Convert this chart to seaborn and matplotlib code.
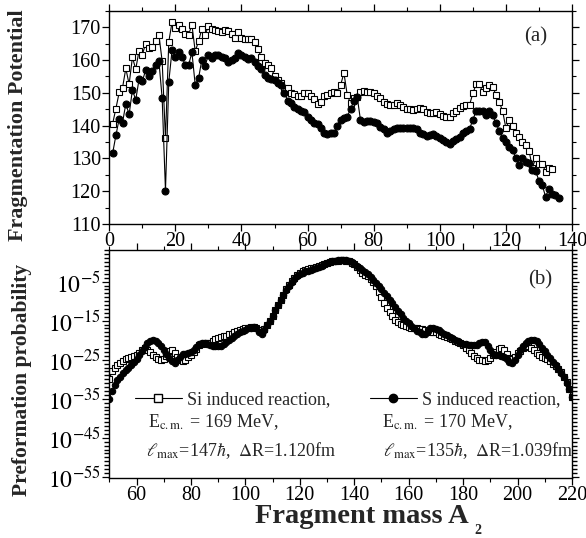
import numpy as np
import matplotlib
matplotlib.use("Agg")
import matplotlib.pyplot as plt
import matplotlib.ticker as mticker
from matplotlib.lines import Line2D
import seaborn as sns

# ---------------- data ----------------
A_top_si = list(range(1, 135))
V_si = [140.5, 145.2, 150.1, 151.5, 157.4, 152.6, 160.8, 157.2, 162.8, 161.6,
        165.0, 163.5, 163.8, 165.9, 167.7, 159.6, 136.1, 165.5, 171.6, 169.7,
        170.7, 169.3, 167.8, 167.7, 170.7, 162.6, 165.7, 169.4, 167.7, 170.3,
        169.4, 169.0, 168.9, 168.6, 169.0, 168.7, 167.9, 166.8, 168.4, 166.8,
        166.3, 166.5, 166.3, 165.5, 163.3, 160.8, 159.0, 158.6, 157.5, 155.2,
        154.0, 153.0, 150.6, 151.4, 150.0, 149.5, 149.1, 149.1, 149.8, 149.8,
        149.1, 148.0, 146.6, 147.3, 149.0, 149.2, 149.8, 150.1, 149.8, 152.4,
        156.0, 149.3, 146.8, 148.3, 148.8, 150.3, 150.5, 150.1, 150.1, 149.8,
        149.1, 148.3, 147.3, 146.5, 146.3, 146.3, 146.8, 146.3, 145.8, 145.1,
        144.9, 144.8, 145.0, 145.3, 145.1, 144.0, 143.7, 143.7, 144.0, 143.4,
        143.0, 142.7, 142.7, 143.7, 144.5, 145.3, 146.1, 146.3, 146.3, 149.8,
        152.6, 152.6, 150.1, 151.6, 152.4, 151.9, 149.3, 147.1, 144.5, 139.2,
        141.7, 140.0, 137.6, 136.6, 134.9, 134.1, 132.4, 127.2, 130.0, 128.2,
        128.2, 126.0, 127.2, 126.8]

A_top_s = list(range(1, 137))
V_s = [131.5, 137.0, 142.1, 140.9, 146.6, 143.4, 150.9, 147.8, 154.1, 153.6,
       156.8, 155.1, 156.6, 158.4, 159.8, 148.3, 120.2, 153.3, 163.1, 161.0,
       162.4, 160.8, 158.5, 158.5, 162.3, 152.4, 154.4, 160.0, 158.2, 161.6,
       160.7, 161.6, 161.6, 161.0, 160.7, 159.5, 160.0, 160.5, 162.1, 161.5,
       160.8, 160.2, 160.5, 159.3, 158.0, 157.2, 155.5, 154.6, 154.1, 153.9,
       153.0, 152.3, 150.0, 147.5, 146.8, 145.8, 145.1, 144.5, 144.2, 142.7,
       141.7, 140.7, 140.4, 139.2, 137.6, 137.3, 137.8, 137.6, 140.0, 141.7,
       142.4, 142.7, 145.1, 147.5, 148.8, 141.7, 141.0, 141.4, 141.5, 141.2,
       140.7, 139.7, 139.0, 137.8, 138.4, 139.0, 139.4, 139.4, 139.4, 139.4,
       139.2, 139.2, 139.1, 137.8, 137.3, 136.8, 137.1, 137.3, 136.9, 136.3,
       135.6, 134.9, 134.3, 135.3, 135.9, 136.6, 137.6, 138.4, 139.0, 141.7,
       144.5, 144.5, 144.5, 143.2, 144.3, 143.2, 140.7, 138.4, 136.1, 134.9,
       133.6, 132.6, 130.2, 128.0, 130.2, 129.0, 128.5, 126.5, 126.3, 123.1,
       121.9, 118.3, 120.7, 119.0, 118.8, 118.0]

A_bot = list(range(50, 221))
logP_si = [-30.0, -28.0, -27.0, -26.3, -25.8, -25.3, -24.9, -24.6, -24.3, -24.1,
           -23.9, -23.3, -22.5, -22.1, -22.4, -23.1, -23.8, -24.3, -24.7, -25.0,
           -24.9, -24.0, -22.8, -22.6, -23.3, -24.4, -25.2, -25.3, -25.0, -24.4,
           -23.7, -23.0, -22.2, -21.3, -20.9, -20.8, -20.8, -20.7, -20.3, -19.8,
           -19.4, -19.2, -19.0, -18.8, -18.5, -18.3, -18.0, -17.7, -17.4, -17.2,
           -17.0, -16.8, -16.7, -16.7, -16.9, -17.4, -17.8, -17.1, -16.1, -15.0,
           -13.7, -12.3, -11.0, -9.6, -8.3, -7.0, -5.9, -4.9, -4.0, -3.3,
           -2.7, -2.3, -2.0, -1.8, -1.6, -1.4, -1.2, -1.0, -0.7, -0.4,
           -0.2, 0.0, 0.2, 0.3, 0.4, 0.5, 0.5, 0.4, 0.2, -0.1,
           -0.6, -1.3, -2.1, -2.7, -3.2, -3.6, -4.2, -5.0, -6.2, -7.6,
           -9.0, -10.4, -11.7, -12.9, -13.9, -14.7, -15.3, -15.8, -16.1, -16.4,
           -16.6, -16.8, -16.9, -17.0, -17.1, -17.2, -17.4, -17.6, -17.8, -17.9,
           -18.0, -18.3, -18.6, -18.9, -19.2, -19.5, -19.8, -20.1, -20.4, -20.8,
           -21.3, -21.9, -22.6, -23.3, -24.0, -24.6, -25.0, -25.2, -25.3, -25.1,
           -24.6, -23.8, -23.0, -22.3, -22.0, -22.5, -23.6, -24.6, -24.8, -24.2,
           -23.4, -22.7, -22.1, -21.7, -21.6, -21.9, -22.5, -23.2, -23.8, -24.2,
           -24.5, -24.9, -25.4, -26.0, -26.6, -27.3, -28.2, -29.4, -30.8, -32.6,
           -34.5]
logP_s = [-35.0, -33.0, -31.4, -30.3, -29.4, -28.5, -27.7, -27.0, -26.3, -25.6,
          -24.8, -23.8, -22.7, -21.7, -20.8, -20.1, -19.9, -20.1, -20.8, -21.6,
          -22.6, -23.6, -24.6, -25.4, -25.8, -25.2, -24.2, -23.6, -23.5, -23.4,
          -23.1, -22.5, -21.8, -21.0, -20.7, -20.8, -21.0, -21.3, -21.5, -21.6,
          -21.6, -21.4, -20.9, -20.4, -19.9, -19.4, -19.0, -18.5, -18.0, -17.6,
          -17.3, -17.0, -16.8, -16.7, -17.0, -17.8, -18.4, -17.5, -16.2, -15.0,
          -13.7, -12.3, -11.0, -9.7, -8.4, -7.2, -6.1, -5.1, -4.3, -3.6,
          -3.1, -2.7, -2.4, -2.2, -2.0, -1.8, -1.6, -1.3, -1.0, -0.6,
          -0.3, 0.0, 0.2, 0.4, 0.5, 0.6, 0.6, 0.5, 0.3, 0.0,
          -0.5, -1.1, -1.6, -2.0, -2.5, -3.1, -3.8, -4.5, -5.3, -6.1,
          -7.0, -7.9, -8.8, -9.7, -10.6, -11.5, -12.4, -13.3, -14.2, -15.0,
          -15.7, -16.4, -17.0, -17.6, -18.0, -18.4, -18.5, -17.6, -17.0, -17.0,
          -17.2, -17.4, -17.8, -18.3, -18.7, -19.1, -19.5, -19.9, -20.3, -20.6,
          -20.9, -21.1, -21.2, -21.3, -21.3, -21.2, -20.8, -20.4, -20.5, -21.4,
          -22.6, -23.5, -23.8, -23.8, -24.0, -24.3, -24.9, -25.6, -25.9, -25.2,
          -23.9, -22.6, -21.5, -20.7, -20.2, -19.9, -19.9, -20.3, -21.0, -21.9,
          -22.8, -23.7, -24.6, -25.5, -26.4, -27.3, -28.3, -29.5, -30.9, -32.6,
          -34.6]

top_xticks = [0, 20, 40, 60, 80, 100, 120, 140]
top_yticks = [110, 120, 130, 140, 150, 160, 170]
bot_xticks = [60, 80, 100, 120, 140, 160, 180, 200, 220]
bot_yexps = [-5, -15, -25, -35, -45, -55]

si_label = "Si induced reaction,"
si_line2 = r"E$_{\rm c.m.}$ = 169 MeV,"
si_line3 = r"$\ell_{\rm max}$=147$\hbar$,  $\Delta$R=1.120fm"
s_label = "S induced reaction,"
s_line2 = r"E$_{\rm c.m.}$ = 170 MeV,"
s_line3 = r"$\ell_{\rm max}$=135$\hbar$,  $\Delta$R=1.039fm"

# ---------------- style ----------------
sns.set_style("ticks")
plt.rcParams["font.family"] = ["Liberation Serif", "DejaVu Serif"]
plt.rcParams["mathtext.fontset"] = "stix"
plt.rcParams["xtick.direction"] = "out"
plt.rcParams["ytick.direction"] = "out"

fig = plt.figure(figsize=(5.86, 5.38), dpi=100)
ax1 = fig.add_axes([0.1865, 0.5836, 0.7896, 0.3965])
ax2 = fig.add_axes([0.1865, 0.1115, 0.7896, 0.4238])

line_kw = dict(color="black", linewidth=0.8, markeredgecolor="black",
               markeredgewidth=0.8)

# top panel
sns.lineplot(x=A_top_si, y=V_si, ax=ax1, marker="s", markersize=4.8,
             markerfacecolor="white", **line_kw)
sns.lineplot(x=A_top_s, y=V_s, ax=ax1, marker="o", markersize=5.0,
             markerfacecolor="black", **line_kw)
ax1.set_xlim(0, 140)
ax1.set_ylim(110, 175)
ax1.set_xticks(top_xticks)
ax1.set_yticks(top_yticks)
ax1.xaxis.set_minor_locator(mticker.MultipleLocator(10))
ax1.yaxis.set_minor_locator(mticker.MultipleLocator(5))
ax1.set_ylabel("Fragmentation Potential", fontsize=15.8, fontweight="bold")
ax1.yaxis.set_label_coords(-0.176, 0.464)
ax1.text(0.946, 0.877, "(a)", transform=ax1.transAxes, fontsize=15,
         ha="right", va="center")

# bottom panel
P_si = [10.0 ** v for v in logP_si]
P_s = [10.0 ** v for v in logP_s]
sns.lineplot(x=A_bot, y=P_si, ax=ax2, marker="s", markersize=4.3,
             markerfacecolor="white", **line_kw)
sns.lineplot(x=A_bot, y=P_s, ax=ax2, marker="o", markersize=4.6,
             markerfacecolor="black", **line_kw)
ax2.set_yscale("log")
ax2.set_xlim(50, 220)
ax2.set_ylim(10.0 ** -55.3, 10.0 ** 3.1)
ax2.set_xticks(bot_xticks)
ax2.xaxis.set_minor_locator(mticker.MultipleLocator(10))
ax2.yaxis.set_major_locator(mticker.FixedLocator([10.0 ** e for e in bot_yexps]))
ax2.yaxis.set_major_formatter(mticker.FixedFormatter(
    [r"$10^{%d}$" % e for e in bot_yexps]))
ax2.yaxis.set_minor_locator(mticker.FixedLocator(
    [10.0 ** e for e in range(-56, 4)]))
ax2.yaxis.set_minor_formatter(mticker.NullFormatter())
ax2.set_ylabel("Preformation probability", fontsize=15.5, fontweight="bold")
ax2.yaxis.set_label_coords(-0.167, 0.43)
ax2.set_xlabel("Fragment mass A", fontsize=20.5, fontweight="bold")
ax2.xaxis.set_label_coords(0.546, -0.112)
ax2.text(0.958, 0.87, "(b)", transform=ax2.transAxes, fontsize=15,
         ha="right", va="center")
ax2.text(0.797, -0.232, "2", transform=ax2.transAxes, fontsize=10,
         fontweight="bold", ha="center", va="center")

for ax in (ax1, ax2):
    for sp in ax.spines.values():
        sp.set_visible(True)
        sp.set_linewidth(1.0)
        sp.set_color("black")
    ax.tick_params(which="both", top=True, right=True, direction="out",
                   colors="black")
    ax.tick_params(which="major", length=5, width=0.9, labelsize=14.5, pad=1)
    ax.tick_params(which="minor", length=3, width=0.8)
    ax.grid(False)
ax2.tick_params(axis="y", which="major", labelsize=17)
ax2.tick_params(axis="y", which="minor", length=3.5, width=1.0)

# legends
h_si = Line2D([], [], color="black", linewidth=0.8, marker="s", markersize=6,
              markerfacecolor="white", markeredgecolor="black")
h_s = Line2D([], [], color="black", linewidth=0.8, marker="o", markersize=6,
             markerfacecolor="black", markeredgecolor="black")
leg1 = ax2.legend([h_si], [si_label], loc="center left",
                  bbox_to_anchor=(0.055, 0.342), frameon=False, fontsize=13,
                  handlelength=2.6, handletextpad=0.3, borderpad=0,
                  borderaxespad=0)
ax2.add_artist(leg1)
ax2.legend([h_s], [s_label], loc="center left",
           bbox_to_anchor=(0.563, 0.342), frameon=False, fontsize=13,
           handlelength=2.6, handletextpad=0.3, borderpad=0, borderaxespad=0)
ax2.text(0.084, 0.245, si_line2, transform=ax2.transAxes, fontsize=13,
         ha="left", va="center")
ax2.text(0.080, 0.12, si_line3, transform=ax2.transAxes, fontsize=13,
         ha="left", va="center")
ax2.text(0.589, 0.245, s_line2, transform=ax2.transAxes, fontsize=13,
         ha="left", va="center")
ax2.text(0.591, 0.12, s_line3, transform=ax2.transAxes, fontsize=13,
         ha="left", va="center")

fig.savefig("out.png", dpi=100)
